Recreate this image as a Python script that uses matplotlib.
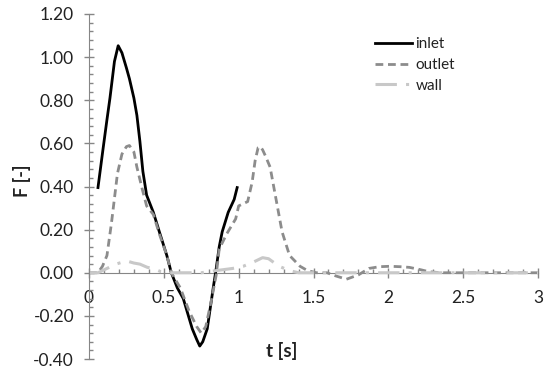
import numpy as np
import matplotlib
matplotlib.use('Agg')
import matplotlib.pyplot as plt
from matplotlib.ticker import MultipleLocator

plt.rcParams['font.family'] = ['Lato', 'DejaVu Sans']

# values
inlet_t = [0.06, 0.093, 0.12, 0.14, 0.17, 0.195, 0.22, 0.25, 0.27, 0.30, 0.32, 0.34,
           0.36, 0.385, 0.43, 0.47, 0.52, 0.55, 0.59, 0.63, 0.69, 0.72, 0.74, 0.76,
           0.79, 0.83, 0.85, 0.87, 0.89, 0.93, 0.97, 0.99]
inlet_F = [0.395, 0.57, 0.71, 0.81, 0.98, 1.053, 1.02, 0.95, 0.90, 0.81, 0.73, 0.61,
           0.47, 0.36, 0.28, 0.19, 0.08, 0.0, -0.07, -0.12, -0.26, -0.31, -0.34, -0.32,
           -0.26, -0.07, 0.02, 0.12, 0.19, 0.28, 0.34, 0.395]

outlet_t = [0.0, 0.06, 0.09, 0.12, 0.15, 0.19, 0.22, 0.25, 0.27, 0.30, 0.32, 0.355,
            0.385, 0.43, 0.47, 0.52, 0.55, 0.61, 0.67, 0.72, 0.75, 0.78, 0.82, 0.85,
            0.87, 0.92, 0.98, 1.00, 1.06, 1.09, 1.11, 1.13, 1.145, 1.16, 1.18, 1.21,
            1.25, 1.29, 1.34, 1.41, 1.46, 1.52, 1.59, 1.65, 1.72, 1.80, 1.87, 1.94,
            2.01, 2.08, 2.14, 2.21, 2.27, 2.35, 2.5, 2.7, 3.0]
outlet_F = [0.0, 0.0, 0.03, 0.08, 0.23, 0.46, 0.55, 0.585, 0.59, 0.56, 0.49, 0.39,
            0.31, 0.27, 0.18, 0.08, 0.0, -0.07, -0.18, -0.25, -0.28, -0.25, -0.12, -0.01,
            0.11, 0.18, 0.25, 0.31, 0.33, 0.42, 0.52, 0.58, 0.585, 0.57, 0.54, 0.49,
            0.34, 0.19, 0.08, 0.03, 0.01, 0.0, 0.0, -0.015, -0.03, -0.01, 0.02, 0.028,
            0.03, 0.028, 0.025, 0.015, 0.005, 0.0, 0.0, 0.0, 0.0]

wall_t = [0.0, 0.06, 0.12, 0.18, 0.25, 0.30, 0.34, 0.39, 0.43, 0.48, 0.55, 0.65,
          0.75, 0.85, 0.96, 1.03, 1.10, 1.16, 1.20, 1.23, 1.27, 1.34, 1.40, 1.6,
          2.0, 2.5, 3.0]
wall_F = [0.0, 0.0, 0.02, 0.04, 0.055, 0.045, 0.04, 0.025, 0.02, 0.005, 0.0, 0.0,
          0.0, 0.01, 0.02, 0.03, 0.05, 0.07, 0.065, 0.05, 0.03, 0.01, 0.0, 0.0,
          0.0, 0.0, 0.0]

x_ticks = [0, 0.5, 1, 1.5, 2, 2.5, 3]
x_labels = ['0', '0.5', '1', '1.5', '2', '2.5', '3']
y_ticks = [-0.4, -0.2, 0.0, 0.2, 0.4, 0.6, 0.8, 1.0, 1.2]

fig = plt.figure(figsize=(5.51, 3.67), dpi=100)
ax = fig.add_axes([89/551, 1-359/367, (538-89)/551, (359-14)/367])

ax.plot(inlet_t, inlet_F, color='black', lw=2.0, label='inlet')
ax.plot(outlet_t, outlet_F, color='#8c8c8c', lw=2.0, ls=(0, (2.8, 1.7)), label='outlet')
ax.plot(wall_t, wall_F, color='#c8c8c8', lw=2.2, ls=(0, (7, 3, 1, 3)), label='wall')

ax.set_xlim(0, 3)
ax.set_ylim(-0.4, 1.2)
ax.set_xticks(x_ticks)
ax.set_xticklabels(x_labels)
ax.set_yticks(y_ticks)
ax.set_yticklabels(['%.2f' % v for v in y_ticks])
ax.xaxis.set_minor_locator(MultipleLocator(0.1))
ax.yaxis.set_minor_locator(MultipleLocator(0.04))

for s in ['top', 'right']:
    ax.spines[s].set_visible(False)
ax.spines['bottom'].set_position(('data', 0))
ax.spines['bottom'].set_color('#868686')
ax.spines['left'].set_color('#868686')
ax.spines['bottom'].set_zorder(0)

ax.tick_params(which='major', direction='inout', length=7.5, width=1, color='#868686',
               labelsize=12.5, labelcolor='#222222')
ax.tick_params(which='minor', direction='in', length=3, width=1, color='#868686')
ax.tick_params(axis='x', which='major', pad=9)
ax.tick_params(axis='y', which='major', pad=7)

fig.text(22/551, 1-181/367, 'F [-]', rotation=90, ha='center', va='center',
         fontsize=13, fontweight='bold', color='#222222')
fig.text(282/551, 1-351/367, 't [s]', ha='center', va='center',
         fontsize=13.5, fontweight='bold', color='#222222')

leg = ax.legend(loc='upper left', bbox_to_anchor=(375/551, 1-37/367),
                bbox_transform=fig.transFigure, frameon=False, fontsize=11,
                handlelength=2.4, handletextpad=0.25, labelspacing=0.45,
                borderpad=0, borderaxespad=0)
for t in leg.get_texts():
    t.set_color('#222222')

fig.savefig('out.png', dpi=100)
